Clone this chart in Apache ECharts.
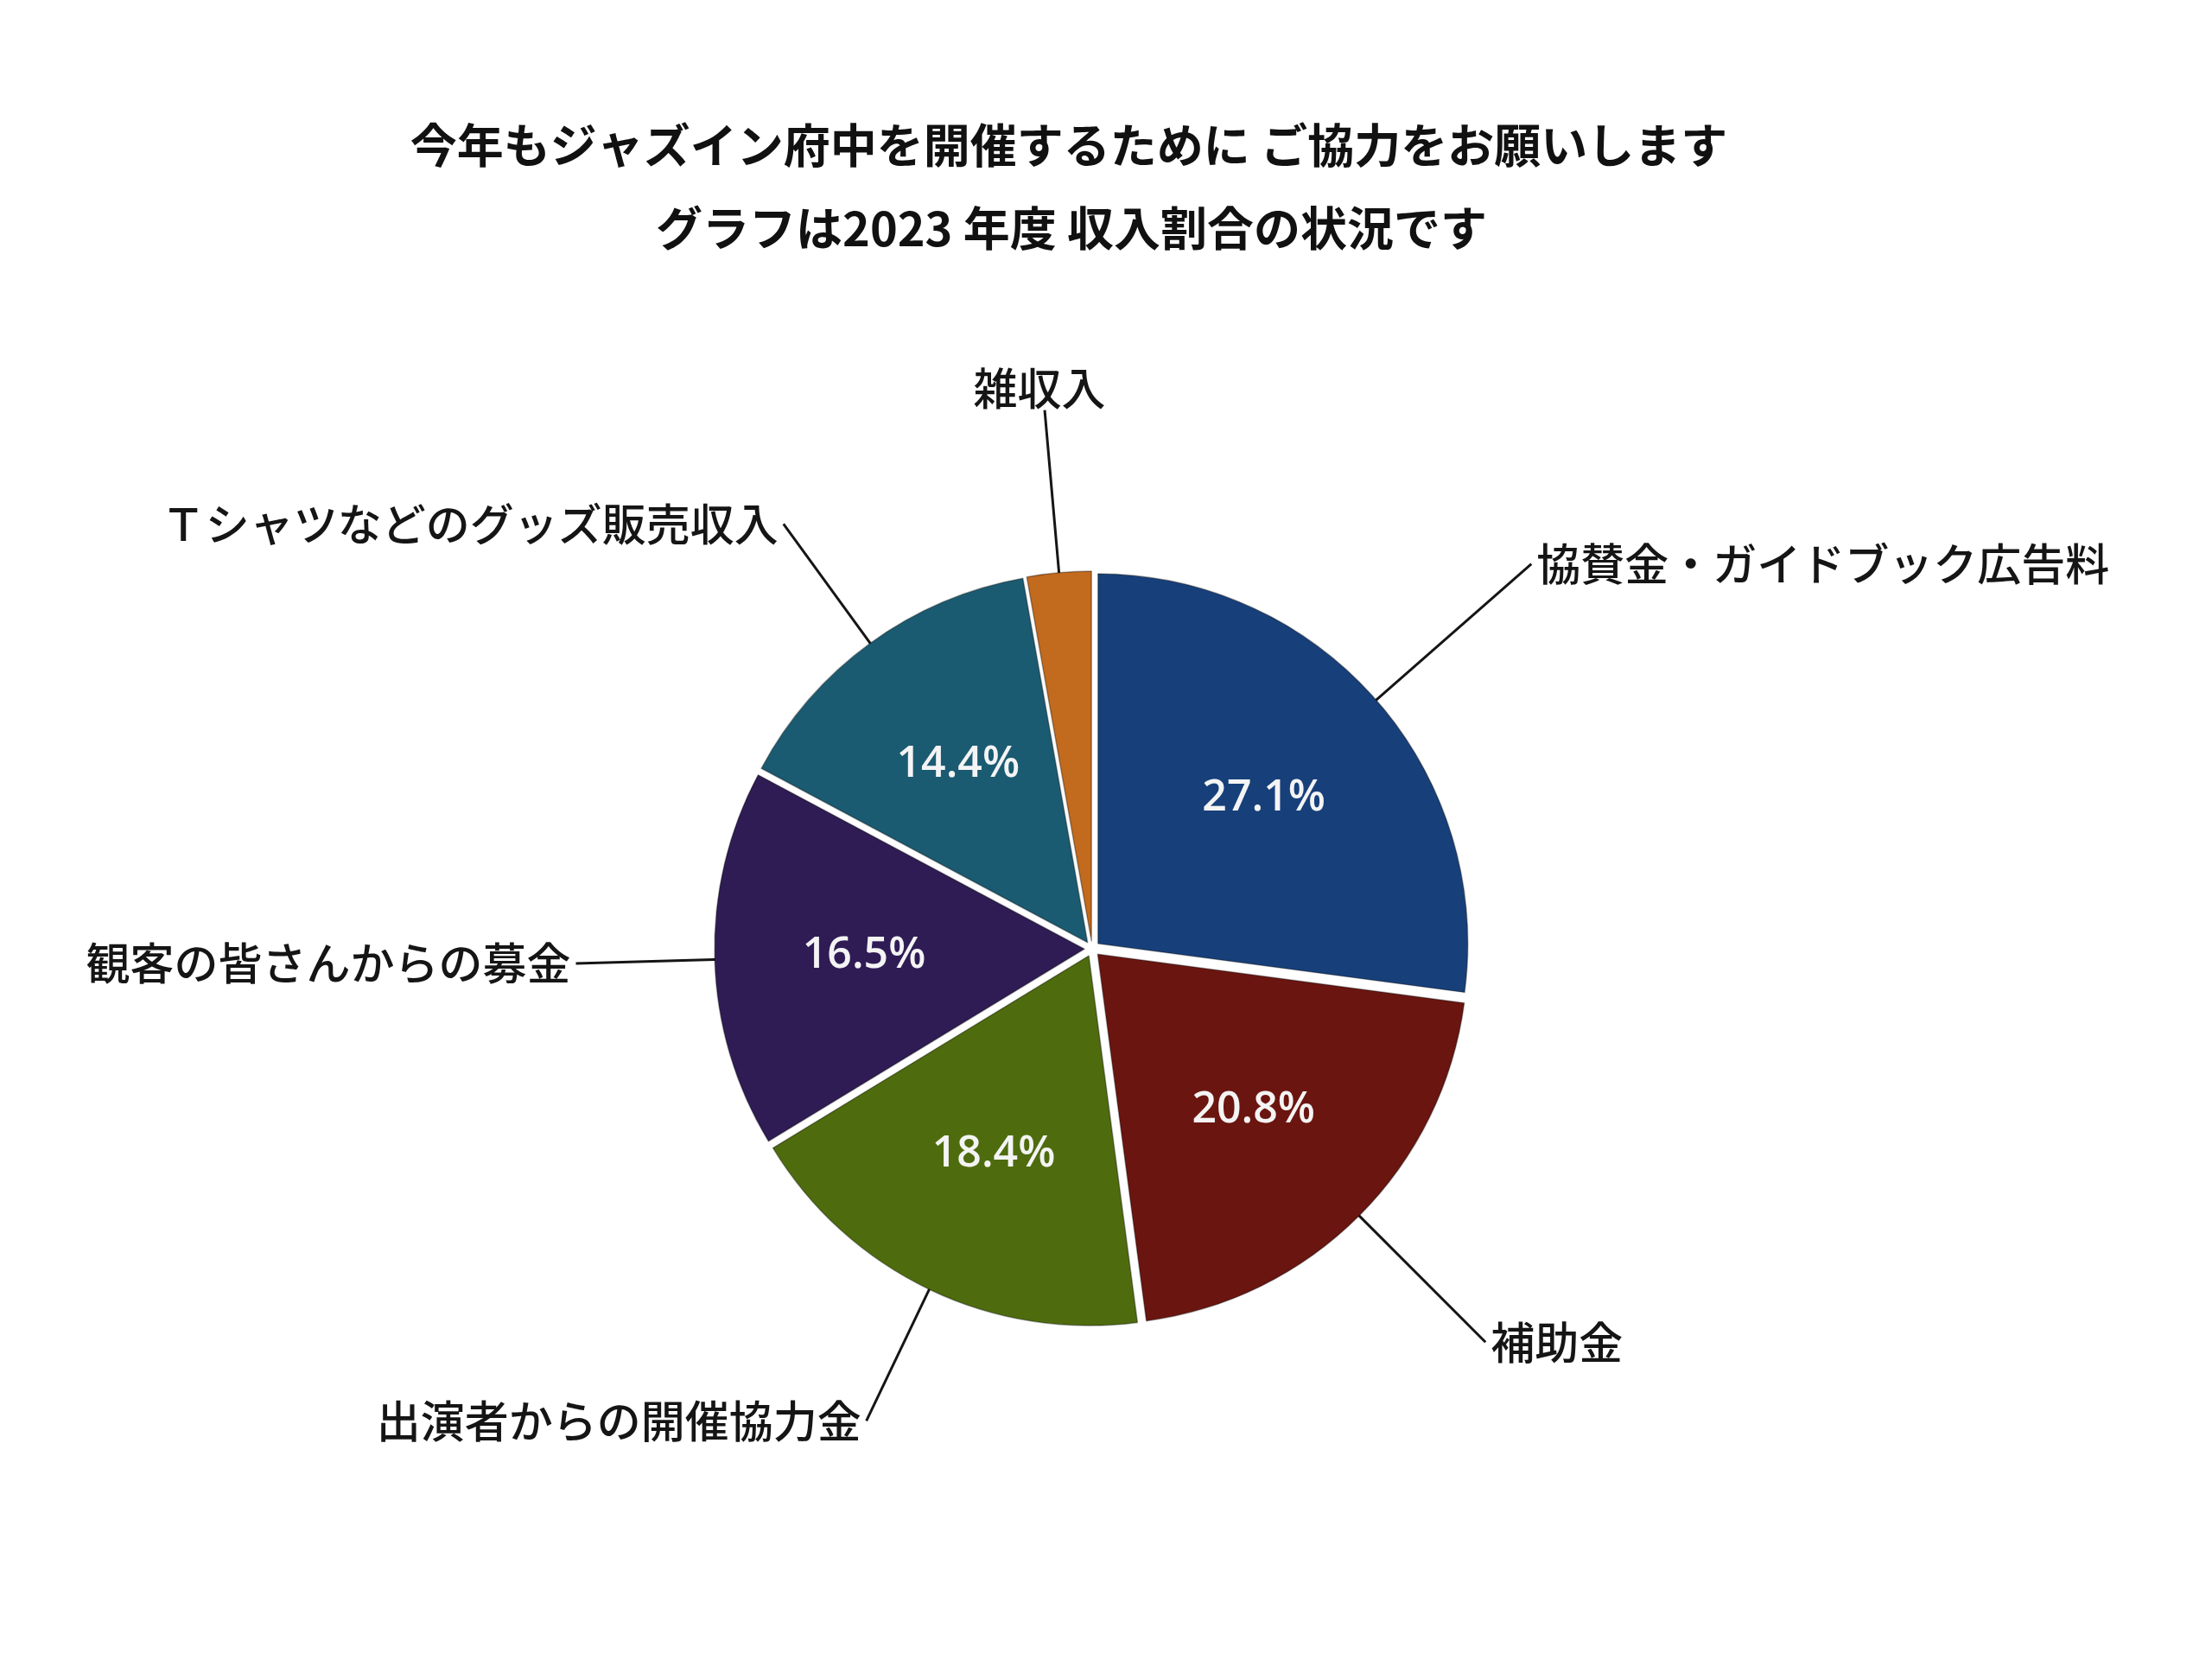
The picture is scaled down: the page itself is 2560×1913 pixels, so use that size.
<!DOCTYPE html>
<html><head><meta charset="utf-8">
<script src="https://cdn.jsdelivr.net/npm/echarts@6/dist/echarts.min.js"></script>
<style>html,body{margin:0;padding:0;background:#fff}#c{width:2560px;height:1913px}</style>
</head><body><div id="c"></div>
<script>
const titleLines = ['今年もジャズイン府中を開催するために ご協力をお願いします', 'グラフは2023 年度 収入割合の状況です'];
const categories = ['協賛金・ガイドブック広告料', '補助金', '出演者からの開催協力金', '観客の皆さんからの募金', 'Ｔシャツなどのグッズ販売収入', '雑収入'];
const shares = [27.1, 20.8, 18.4, 16.5, 14.4, 2.8];
const showPercent = [true, true, true, true, true, false];
const colors = ['#17407a', '#6b1510', '#4e6c0e', '#2f1c55', '#1b5b72', '#c26a1e'];
const leaderLengths = [282, 250, 212, 204, 214, 232];

const R = 428, CX = 1264, CY = 1098;
const chart = echarts.init(document.getElementById('c'));
const mainData = categories.map((n, i) => ({name: n, value: shares[i], selected: true, itemStyle: {color: colors[i]}}));
const outerData = categories.map((n, i) => ({name: n, value: shares[i], labelLine: {length: leaderLengths[i], length2: 0}}));
const innerData = categories.map((n, i) => ({name: n, value: shares[i], label: {show: showPercent[i]}}));
const titleStyle = {fontFamily: 'Noto Sans CJK JP', fontWeight: 'bold', fontSize: 54, color: '#111'};
chart.setOption({
  backgroundColor: '#ffffff',
  animation: false,
  title: [
    {text: titleLines[0], left: 1237, top: 141, textAlign: 'center', padding: 0, textStyle: titleStyle},
    {text: titleLines[1], left: 1240, top: 237, textAlign: 'center', padding: 0, textStyle: titleStyle}
  ],
  series: [
    {type: 'pie', center: [CX, CY], radius: [0, R], startAngle: 90, clockwise: true,
     selectedMode: 'multiple', selectedOffset: 9, silent: true,
     itemStyle: {borderColor: 'rgba(0,0,0,0.35)', borderWidth: 1.5},
     label: {show: false}, labelLine: {show: false}, emphasis: {disabled: true},
     data: mainData},
    {type: 'pie', center: [CX, CY], radius: [0, R * 0.92], startAngle: 90, clockwise: true,
     silent: true, avoidLabelOverlap: false,
     itemStyle: {color: 'transparent'}, emphasis: {disabled: true},
     label: {show: true, position: 'outside', formatter: '{b}', fontFamily: 'Noto Sans CJK JP', fontSize: 51, fontWeight: 500, color: '#151515', distanceToLabelLine: 6},
     labelLine: {show: true, lineStyle: {color: '#151515', width: 3}},
     labelLayout: function (p) { return p.dataIndex === 5 ? {align: 'center', verticalAlign: 'bottom'} : {}; },
     data: outerData},
    {type: 'pie', center: [CX, CY], radius: [R * 0.22, R], startAngle: 90, clockwise: true,
     silent: true, avoidLabelOverlap: false,
     itemStyle: {color: 'transparent'}, emphasis: {disabled: true},
     label: {show: true, position: 'inside', formatter: p => p.value.toFixed(1) + '%', fontFamily: 'Open Sans', fontSize: 50, fontWeight: 600, color: '#f4f4f4'},
     labelLine: {show: false},
     data: innerData}
  ]
});
</script></body></html>
